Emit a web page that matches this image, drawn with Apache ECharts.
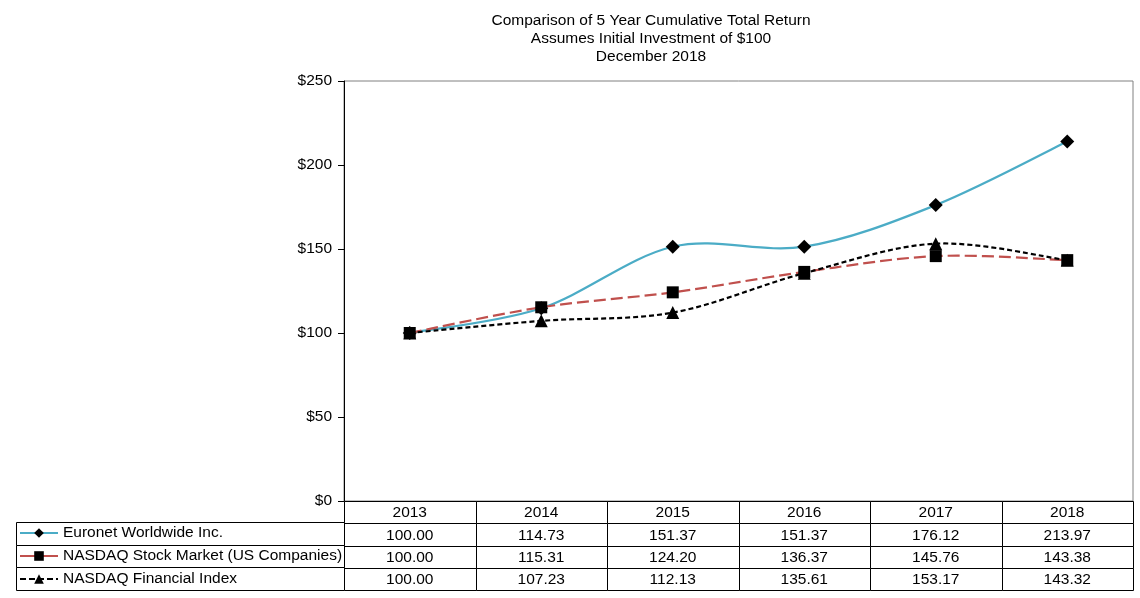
<!DOCTYPE html>
<html>
<head>
<meta charset="utf-8">
<script src="https://cdn.jsdelivr.net/npm/echarts@6/dist/echarts.min.js"></script>
<style>
html,body{margin:0;padding:0;background:#fff;}
#chart{width:1140px;height:598px;}
</style>
</head>
<body>
<div id="chart"></div>
<script>
const years = ['2013','2014','2015','2016','2017','2018'];
const seriesNames = ['Euronet Worldwide Inc.', 'NASDAQ Stock Market (US Companies)', 'NASDAQ Financial Index'];
const euronet = [100.00, 114.73, 151.37, 151.37, 176.12, 213.97];
const nasdaqStock = [100.00, 115.31, 124.20, 136.37, 145.76, 143.38];
const nasdaqFin = [100.00, 107.23, 112.13, 135.61, 153.17, 143.32];
const yTicks = [0, 50, 100, 150, 200, 250];
const titleLines = ['Comparison of 5 Year Cumulative Total Return', 'Assumes Initial Investment of $100', 'December 2018'];

const FONT = '"Liberation Sans", Arial, sans-serif';
const FS = 15.5;
const COLORS = ['#4BACC6', '#C0504D', '#000000'];
const DASHES = [null, [12, 5], [5, 3]];
const allSeries = [euronet, nasdaqStock, nasdaqFin];

const tableRows = [years].concat(allSeries.map(s => s.map(v => v.toFixed(2))));
const tableCells = [];
tableRows.forEach((row, r) => row.forEach((t, c) => tableCells.push({value: [c, r], text: t})));
const legendCells = seriesNames.map((n, r) => ({value: [0, r], text: n}));

function cellRender(cells, showText) {
  return function (params, api) {
    const c = api.coord([api.value(0), api.value(1)]);
    const s = api.size([1, 1]);
    const x0 = Math.round(c[0] - s[0] / 2) + 0.5, y0 = Math.round(c[1] - s[1] / 2) + 0.5;
    const x1 = Math.round(c[0] + s[0] / 2) + 0.5, y1 = Math.round(c[1] + s[1] / 2) + 0.5;
    const children = [{
      type: 'rect',
      shape: {x: x0, y: y0, width: x1 - x0, height: y1 - y0},
      style: {fill: '#fff', stroke: '#000', lineWidth: 1}
    }];
    if (showText) {
      children.push({
        type: 'text',
        style: {text: cells[params.dataIndex].text, x: c[0], y: c[1] + 1, align: 'center', verticalAlign: 'middle',
          font: FS + 'px ' + FONT, fill: '#000'}
      });
    }
    return {type: 'group', children: children};
  };
}

// Excel-like smoothed curve (Catmull-Rom to Bezier) through the data points, via the axis scales
function curveRender(values, color, dash) {
  return function (params, api) {
    const pts = values.map((v, i) => api.coord([i, v]));
    let d = 'M' + pts[0][0] + ' ' + pts[0][1];
    for (let i = 0; i < pts.length - 1; i++) {
      const p0 = pts[Math.max(i - 1, 0)], p1 = pts[i], p2 = pts[i + 1], p3 = pts[Math.min(i + 2, pts.length - 1)];
      const c1 = [p1[0] + (p2[0] - p0[0]) / 6, p1[1] + (p2[1] - p0[1]) / 6];
      const c2 = [p2[0] - (p3[0] - p1[0]) / 6, p2[1] - (p3[1] - p1[1]) / 6];
      d += ' C' + c1[0] + ' ' + c1[1] + ' ' + c2[0] + ' ' + c2[1] + ' ' + p2[0] + ' ' + p2[1];
    }
    return {type: 'path', shape: {pathData: d},
      style: {fill: 'none', stroke: color, lineWidth: 2.2, lineDash: dash || null, lineCap: 'butt'}};
  };
}

const curveSeries = allSeries.map((vals, k) => ({
  name: seriesNames[k] + ' curve', type: 'custom', xAxisIndex: 0, yAxisIndex: 0,
  data: [[0, vals[0]]], renderItem: curveRender(vals, COLORS[k], DASHES[k]), silent: true, z: 2 + k * 2
}));

const chart = echarts.init(document.getElementById('chart'));
chart.setOption({
  backgroundColor: '#fff',
  animation: false,
  textStyle: {fontFamily: FONT},
  graphic: [{
    type: 'text', x: 651, y: 12,
    style: {text: titleLines.join('\n'), font: FS + 'px ' + FONT, lineHeight: 18, fill: '#000', align: 'center'}
  }],
  legend: {
    data: [
      {name: seriesNames[0], lineStyle: {type: 'solid', color: COLORS[0], width: 2, opacity: 1}},
      {name: seriesNames[1], lineStyle: {type: 'solid', color: COLORS[1], width: 2, opacity: 1}},
      {name: seriesNames[2], lineStyle: {type: [6, 3], color: COLORS[2], width: 2, opacity: 1}}
    ],
    orient: 'vertical',
    left: 14, top: 520,
    itemWidth: 38, itemHeight: 12, itemGap: 7,
    textStyle: {fontSize: FS, color: '#000', fontFamily: FONT},
    selectedMode: false
  },
  grid: [
    {left: 344, top: 81, width: 789, height: 420, show: true, borderColor: '#808080', borderWidth: 1, backgroundColor: '#fff'},
    {left: 344, top: 501, width: 789, height: 89},
    {left: 16, top: 522, width: 328, height: 68}
  ],
  xAxis: [
    {type: 'category', gridIndex: 0, data: years, boundaryGap: true,
      axisLine: {lineStyle: {color: '#000', width: 1}}, axisTick: {show: false}, axisLabel: {show: false}, splitLine: {show: false}},
    {type: 'category', gridIndex: 1, data: years, boundaryGap: true, show: false},
    {type: 'category', gridIndex: 2, data: ['legend'], boundaryGap: true, show: false}
  ],
  yAxis: [
    {type: 'value', gridIndex: 0, min: 0, max: 250, interval: 50,
      axisLine: {show: true, lineStyle: {color: '#000', width: 1}},
      axisTick: {show: true, length: 6, lineStyle: {color: '#000'}},
      axisLabel: {color: '#000', fontSize: FS, fontFamily: FONT, margin: 12, formatter: v => '$' + v},
      splitLine: {show: false}},
    {type: 'category', gridIndex: 1, data: tableRows.map((r, i) => String(i)), inverse: true, boundaryGap: true, show: false},
    {type: 'category', gridIndex: 2, data: seriesNames, inverse: true, boundaryGap: true, show: false}
  ],
  series: curveSeries.concat([
    {name: seriesNames[0], type: 'line', xAxisIndex: 0, yAxisIndex: 0, data: euronet,
      symbol: 'diamond', symbolSize: 14, itemStyle: {color: '#000'},
      lineStyle: {color: COLORS[0], width: 0, opacity: 0}, z: 3},
    {name: seriesNames[1], type: 'line', xAxisIndex: 0, yAxisIndex: 0, data: nasdaqStock,
      symbol: 'rect', symbolSize: 12, itemStyle: {color: '#000'},
      lineStyle: {color: COLORS[1], width: 0, opacity: 0}, z: 5},
    {name: seriesNames[2], type: 'line', xAxisIndex: 0, yAxisIndex: 0, data: nasdaqFin,
      symbol: 'triangle', symbolSize: 13, itemStyle: {color: '#000'},
      lineStyle: {color: COLORS[2], width: 0, opacity: 0}, z: 7},
    {name: 'table', type: 'custom', xAxisIndex: 1, yAxisIndex: 1, data: tableCells.map(c => c.value),
      renderItem: cellRender(tableCells, true), silent: true, z: 1},
    {name: 'legendCells', type: 'custom', xAxisIndex: 2, yAxisIndex: 2, data: legendCells.map(c => c.value),
      renderItem: cellRender(legendCells, false), silent: true, z: 1}
  ])
});
</script>
</body>
</html>
